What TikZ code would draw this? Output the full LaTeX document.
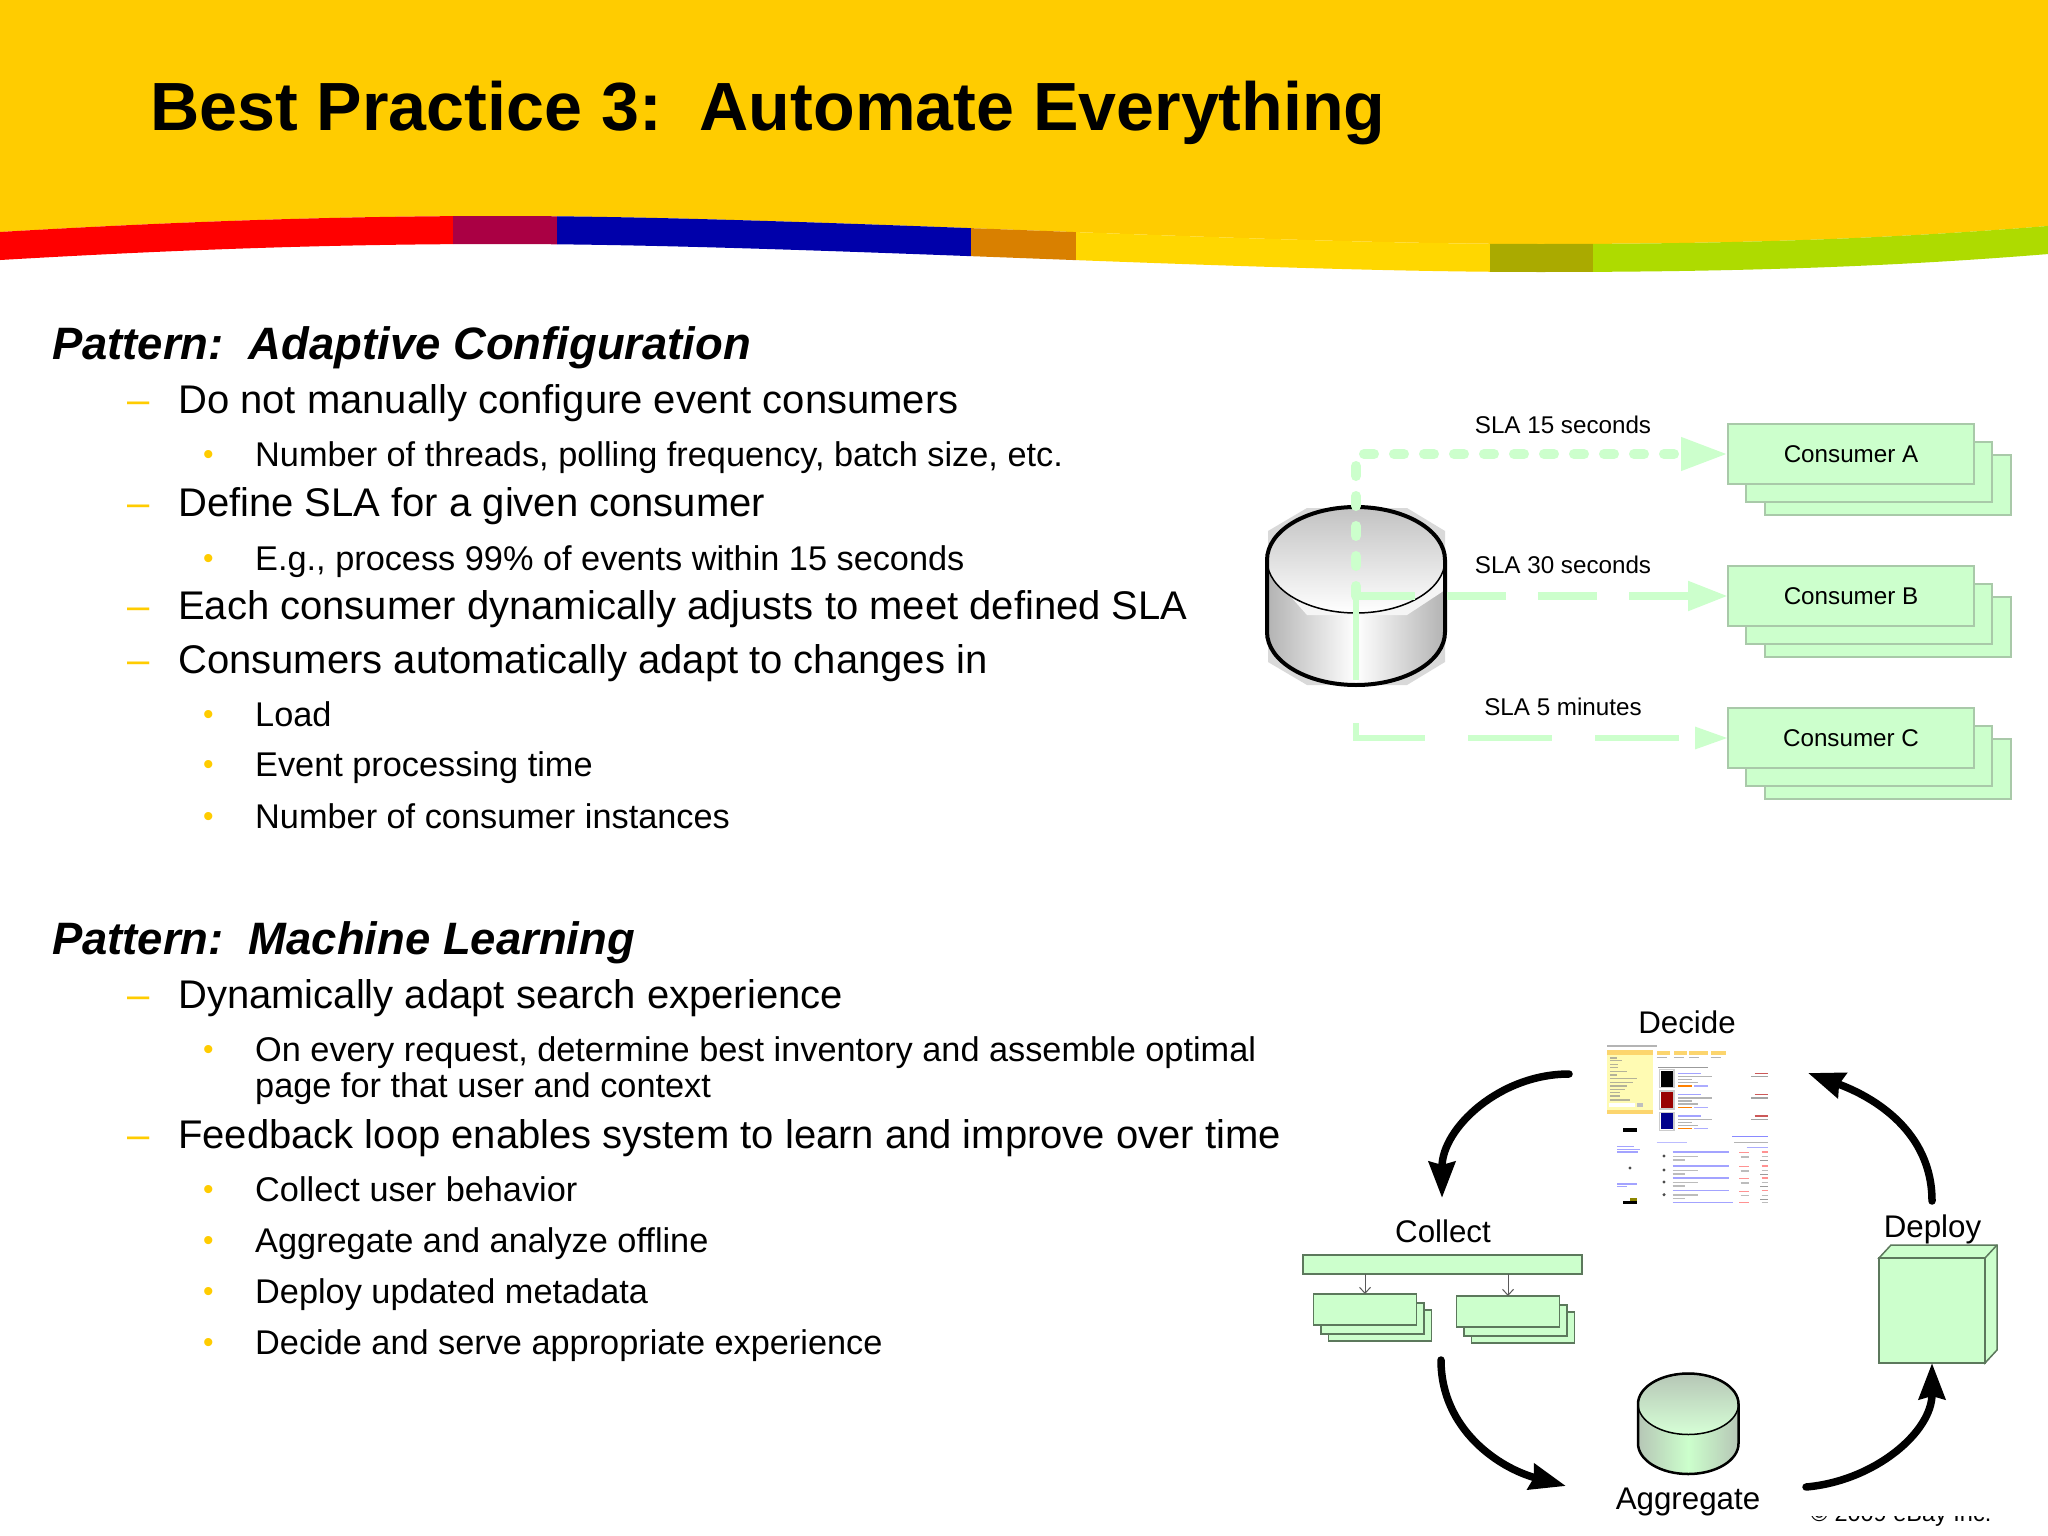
\documentclass[tikz,border=0pt]{standalone}
\usepackage{fontspec}
\setmainfont{Liberation Sans}
\usetikzlibrary{arrows.meta}
\definecolor{sunyellow}{HTML}{FFCC00}
\definecolor{mint}{HTML}{CCFFCC}
\definecolor{mintedge}{HTML}{A9C9A9}
\definecolor{darkedge}{HTML}{5C785C}
\definecolor{greymint}{HTML}{B6C6B6}
\newcommand{\wave}{(-20,246) -- (0,246) .. controls (170,236) and (330,230) .. (500,230) .. controls (800,230) and (1240,258) .. (1540,258) .. controls (1750,258) and (1900,252) .. (2048,240) -- (2070,238)}
\tikzset{
  titletext/.style={anchor=base west,inner sep=0,font=\fontsize{68.2}{68.2}\selectfont\bfseries},
  pattern/.style={anchor=base west,inner sep=0,font=\fontsize{45.4}{45.4}\selectfont\bfseries\itshape},
  lvla/.style={anchor=base west,inner sep=0,font=\fontsize{40}{40}\selectfont},
  lvlb/.style={anchor=base west,inner sep=0,font=\fontsize{34.3}{36.5}\selectfont},
  mark1/.style={lvla,text=sunyellow},
  mark2/.style={anchor=base west,inner sep=0,font=\fontsize{30}{30}\selectfont,text=sunyellow,yshift=1.5pt},
  card/.style={draw=mintedge,fill=mint,line width=1.5pt,minimum width=246pt,minimum height=60pt,inner sep=0,outer sep=0,font=\fontsize{24.2}{24.2}\selectfont,text height=17pt,text depth=0pt},
  sla/.style={anchor=base,inner sep=0,font=\fontsize{24.2}{24.2}\selectfont},
  flowtip/.style={line cap=round,draw=mint},
  thinbox/.style={draw=darkedge,fill=mint,line width=1.5pt,minimum width=103pt,minimum height=31pt,inner sep=0,outer sep=0},
  steplabel/.style={anchor=base,inner sep=0,font=\fontsize{31.3}{31.3}\selectfont},
  loopline/.style={line width=7.5pt,line cap=round,-{Stealth[length=36pt,width=26pt,inset=3pt]}},
  smallarrow/.style={draw=black!65,line width=1pt,-{Straight Barb[length=6pt,width=11pt]}},
  hair/.style={line width=1.1pt,draw=#1,opacity=0.65},
}
\begin{document}
\begin{tikzpicture}[x=1pt,y=-1pt]
\useasboundingbox (0,0) rectangle (2048,1536);
\fill[white] (0,0) rectangle (2048,1536);
% header
\fill[sunyellow] (0,0) -- (2048,0) -- (2048,226) .. controls (1900,238) and (1750,244) .. (1540,244) .. controls (1240,244) and (800,216) .. (500,216) .. controls (330,216) and (170,222) .. (0,232) -- cycle;
\foreach \a/\b/\c in {0/453/FF0000,453/557/AA0044,557/971/0000AA,971/1076/D98000,1076/1490/FFD700,1490/1593/AAAA00,1593/2048/AEDB00}{
  \definecolor{bandc}{HTML}{\c}
  \begin{scope}
    \clip (\a,200) rectangle (\b,290);
    \draw[bandc,line width=28pt] \wave;
  \end{scope}
}
\node[titletext] (title) at (150,130.5) {Best Practice 3:\ \ Automate Everything};
% left text 1
\node[pattern] (p1) at (52,359) {Pattern:\ \ Adaptive Configuration};
\node[mark1] (d1) at (127,413) {–};
\node[lvla] (a1) at (178,413) {Do not manually configure event consumers};
\node[mark2] (b1) at (203,466) {•};
\node[lvlb] (a2) at (255,466) {Number of threads, polling frequency, batch size, etc.};
\node[mark1] (d2) at (127,516) {–};
\node[lvla] (a3) at (178,516) {Define SLA for a given consumer};
\node[mark2] (b2) at (203,570) {•};
\node[lvlb] (a4) at (255,570) {E.g., process 99\% of events within 15 seconds};
\node[mark1] (d3) at (127,619) {–};
\node[lvla] (a5) at (178,619) {Each consumer dynamically adjusts to meet defined SLA};
\node[mark1] (d4) at (127,673) {–};
\node[lvla] (a6) at (178,673) {Consumers automatically adapt to changes in};
\node[mark2] (b3) at (203,726) {•};
\node[lvlb] (a7) at (255,726) {Load};
\node[mark2] (b4) at (203,776) {•};
\node[lvlb] (a8) at (255,776) {Event processing time};
\node[mark2] (b5) at (203,828) {•};
\node[lvlb] (a9) at (255,828) {Number of consumer instances};
% left text 2
\node[pattern] (p2) at (52,954) {Pattern:\ \ Machine Learning};
\node[mark1] (d5) at (127,1008) {–};
\node[lvla] (c1) at (178,1008) {Dynamically adapt search experience};
\node[mark2] (b6) at (203,1061) {•};
\node[lvlb] (c2) at (255,1061) {On every request, determine best inventory and assemble optimal};
\node[lvlb] (c2b) at (255,1097) {page for that user and context};
\node[mark1] (d6) at (127,1148) {–};
\node[lvla] (c3) at (178,1148) {Feedback loop enables system to learn and improve over time};
\node[mark2] (b7) at (203,1201) {•};
\node[lvlb] (c4) at (255,1201) {Collect user behavior};
\node[mark2] (b8) at (203,1252) {•};
\node[lvlb] (c5) at (255,1252) {Aggregate and analyze offline};
\node[mark2] (b9) at (203,1303) {•};
\node[lvlb] (c6) at (255,1303) {Deploy updated metadata};
\node[mark2] (b10) at (203,1354) {•};
\node[lvlb] (c7) at (255,1354) {Decide and serve appropriate experience};
% database cylinder
\fill[black!15] (1307,508) -- (1407,508) -- (1445,531) -- (1445,662) -- (1407,685) -- (1307,685) -- (1268,662) -- (1268,531) -- cycle;
\shade[left color=black!30,right color=black!30,middle color=white] (1267,560) -- (1267,632) arc[start angle=180,end angle=360,x radius=89pt,y radius=53pt] -- (1445,560) -- cycle;
\fill[white!96!black] (1267,570) -- (1307,615) -- (1407,615) -- (1445,590) -- (1445,560) -- (1267,560) -- cycle;
\shade[top color=black!24,bottom color=white] (1356,560) ellipse [x radius=89pt,y radius=53pt];
\draw[line width=1.5pt] (1356,560) ellipse [x radius=89pt,y radius=53pt];
\draw[line width=4pt] (1267,560) arc[start angle=180,end angle=0,x radius=89pt,y radius=53pt] -- (1445,632) arc[start angle=360,end angle=180,x radius=89pt,y radius=53pt] -- cycle;
% consumers
\foreach \n/\y in {A/454,B/596,C/738}{
  \node[card] (back\n) at (1888,\y+15+16) {};
  \node[card] (mid\n) at (1869,\y+18) {};
}
\node[card] (consA) at (1851,454) {Consumer A};
\node[card] (consB) at (1851,596) {Consumer B};
\node[card] (consC) at (1851,738) {Consumer C};
\coordinate (hub) at (1356,596);
\draw[flowtip,line width=10pt,dash pattern=on 10pt off 20pt,-{Triangle[length=47pt,width=31pt]}] (hub) |- (consA.west);
\draw[flowtip,line width=8pt,line cap=butt,dash pattern=on 59pt off 32pt,-{Triangle[length=40pt,width=28pt]}] (hub) -- (consB.west);
\draw[flowtip,line width=6pt,line cap=butt,dash pattern=on 84pt off 43pt,-{Triangle[length=33pt,width=21pt]}] (hub) |- (consC.west);
\node[sla] (s1) at (1563,433) {SLA 15 seconds};
\node[sla] (s2) at (1563,573) {SLA 30 seconds};
\node[sla] (s3) at (1563,715) {SLA 5 minutes};
% copyright, hidden above its foot
\node[anchor=base,inner sep=0,font=\fontsize{23.5}{23.5}\selectfont] (copy) at (1901,1521) {© 2009 eBay Inc.};
\fill[white] (1780,1470) rectangle (2010,1515.5);
% screenshot
\begin{scope}[shift={(1590,1030)},x=0.33333pt,y=-0.33333pt]
  \draw[hair=black!45] (52,48) -- (200,48);
  \fill[yellow!30] (52,60) rectangle (188,250);
  \fill[yellow!45!orange!55] (52,60) rectangle (188,74);
  \fill[yellow!45!orange!55] (52,240) rectangle (188,252);
  \foreach \y/\l in {84/20,92/35,103/25,113/25,124/52,135/20,146/80,158/70,168/50,178/45,188/30,198/30,210/60}{
    \draw[hair=black!45] (60,\y) -- (60+\l,\y);
  }
  \fill[white] (58,220) rectangle (135,230);
  \fill[black!25] (140,220) rectangle (160,230);
  \foreach \a/\b in {200/240,252/290,298/355,362/407}{
    \fill[yellow!45!orange!55] (\a,64) rectangle (\b,74);
    \draw[hair=black!45] (\a,82) -- (\a+30,82);
  }
  \draw[hair=black!60] (204,112) -- (355,112);
  \foreach \y/\c in {122/black,186/red!60!black,250/blue!55!black}{
    \fill[\c] (212,\y) rectangle (248,\y+48);
    \draw[hair=black!30] (208,\y-3) rectangle (252,\y+51);
    \draw[hair=blue!55] (265,\y+8) -- (332,\y+8);
    \draw[hair=black!45] (265,\y+18) -- (365,\y+18);
    \draw[hair=black!45] (265,\y+27) -- (305,\y+27);
    \draw[hair=black!45] (265,\y+36) -- (325,\y+36);
    \draw[orange,line width=1.6pt] (265,\y+46) -- (305,\y+46);
    \draw[hair=blue!50] (312,\y+46) -- (355,\y+46);
    \draw[hair=red!70!black] (494,\y+8) -- (534,\y+8);
    \draw[hair=black!55] (484,\y+18) -- (534,\y+18);
  }
  \draw[hair=blue!70] (426,319) -- (534,319);
  \draw[hair=blue!40] (200,337) -- (290,337);
  \draw[hair=black!45] (432,337) -- (534,337);
  \draw[hair=blue!50] (470,352) -- (534,352);
  \foreach \y in {366,408,444,482}{
    \fill[black!70] (222,\y+12) circle[radius=5];
    \draw[hair=blue!55] (248,\y) -- (418,\y);
    \draw[hair=black!40] (248,\y+13) -- (325,\y+13);
    \draw[hair=black!40] (248,\y+24) -- (285,\y+24);
    \draw[hair=red!65] (448,\y+2) -- (478,\y+2);
    \draw[hair=black!40] (452,\y+15) -- (478,\y+15);
    \draw[hair=red!65] (515,\y) -- (533,\y);
    \draw[hair=black!40] (515,\y+14) -- (533,\y+14);
    \draw[hair=black!60] (510,\y+26) -- (533,\y+26);
  }
  \draw[hair=blue!55] (248,517) -- (430,517);
  \draw[hair=red!65] (448,517) -- (478,517);
  \draw[hair=black!40] (515,517) -- (533,517);
  \fill[black] (100,295) rectangle (141,306);
  \foreach \y/\l in {350/50,358/68,366/62}{\draw[hair=blue!55] (82,\y) -- (82+\l,\y);}
  \fill[black!70] (120,414) circle[radius=5];
  \foreach \y/\l in {462/60,470/30}{\draw[hair=blue!55] (82,\y) -- (82+\l,\y);}
  \fill[black] (100,512) rectangle (141,522);
  \fill[olive] (120,505) rectangle (141,512);
\end{scope}
\node[steplabel] (decide) at (1687,1033) {Decide};
% collect
\node[thinbox,minimum width=279pt,minimum height=19pt] (bar) at (1442.5,1264.5) {};
\foreach \n/\x/\y in {l/1365/1309.5,r/1508/1311.5}{
  \node[thinbox] (third\n) at (\x+15,\y+16) {};
  \node[thinbox] (second\n) at (\x+7.5,\y+9) {};
  \node[thinbox] (first\n) at (\x,\y) {};
  \draw[smallarrow] (bar.south -| first\n) -- (first\n.north);
}
\node[steplabel] (collect) at (1443,1242) {Collect};
% aggregate cylinder
\shade[left color=greymint,right color=greymint,middle color=mint] (1638,1404) -- (1638,1443.5) arc[start angle=180,end angle=360,x radius=50.25pt,y radius=30.5pt] -- (1738.5,1404) -- cycle;
\shade[top color=greymint,bottom color=mint!80!white] (1688.25,1404) ellipse [x radius=50.25pt,y radius=30.5pt];
\draw[line width=1.5pt] (1688.25,1404) ellipse [x radius=50.25pt,y radius=30.5pt];
\draw[line width=2.5pt] (1638,1404) arc[start angle=180,end angle=0,x radius=50.25pt,y radius=30.5pt] -- (1738.5,1443.5) arc[start angle=360,end angle=180,x radius=50.25pt,y radius=30.5pt] -- cycle;
\node[steplabel] (aggregate) at (1688,1509) {Aggregate};
% deploy box
\fill[mint,draw=darkedge,line width=1.5pt] (1879,1258) -- (1891,1245) -- (1997,1245) -- (1997,1350) -- (1985,1363) -- (1985,1258) -- cycle;
\node[thinbox,minimum width=106pt,minimum height=105pt] (box) at (1932,1310.5) {};
\draw[darkedge,line width=1.5pt] (1985,1258) -- (1997,1245);
\node[steplabel] (deploy) at (1932.5,1237) {Deploy};
% loop
\coordinate (l1) at (1569,1074);
\coordinate (l2) at (1442,1198);
\coordinate (l3) at (1441,1360);
\coordinate (l4) at (1566,1486);
\coordinate (l5) at (1806,1487);
\coordinate (l6) at (1932,1201);
\coordinate (l7) at (1808,1073);
\draw[loopline] (l1) to[out=180,in=90] (l2);
\draw[loopline] (l3) to[out=-90,in=165] (l4);
\draw[loopline] (l5) to[out=5,in=-90] (box.south);
\draw[loopline] (l6) to[out=90,in=-20] (l7);
\end{tikzpicture}
\end{document}
